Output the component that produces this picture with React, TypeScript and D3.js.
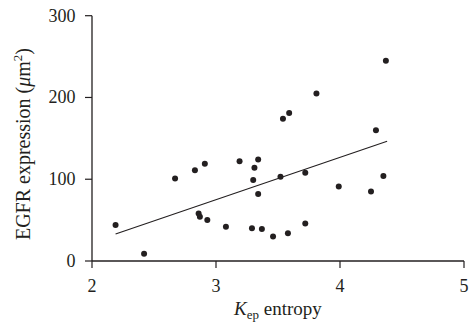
import * as d3 from "d3";

const kepEntropy = [
  2.19, 2.42, 2.67, 2.83, 2.91, 2.86, 2.87, 2.93, 3.19, 3.34, 3.31, 3.3, 3.34,
  3.52, 3.72, 3.99, 3.81, 3.54, 3.59, 3.08, 3.29, 3.37, 3.46, 3.58, 3.72, 4.37,
  4.29, 4.35, 4.25,
];
const egfr = [
  44, 9, 101, 111, 119, 58, 54, 50, 122, 124, 114, 99, 82, 103, 108, 91, 205,
  174, 181, 42, 40, 39, 30, 34, 46, 245, 160, 104, 85,
];
const fitX = [2.19, 4.38];
const fitY = [33, 146.5];
const xTicks = [2, 3, 4, 5];
const yTicks = [0, 100, 200, 300];

export default function App() {
  const width = 469;
  const height = 330;
  const margin = { top: 15.7, right: 5, bottom: 69, left: 92 };
  const x = d3.scaleLinear([2, 5], [margin.left, width - margin.right]);
  const y = d3.scaleLinear([0, 300], [height - margin.bottom, margin.top]);
  const font = "'Liberation Serif', 'Times New Roman', serif";
  const ink = "#231f20";
  const fit = d3
    .line<number>()
    .x((d) => x(d))
    .y((_, i) => y(fitY[i]));

  return (
    <svg
      width={width}
      height={height}
      viewBox={`0 0 ${width} ${height}`}
      style={{ position: "absolute", left: 0, top: 0, background: "#fff" }}
      fontFamily={font}
    >
      {/* axes */}
      <line x1={x(2)} x2={x(5)} y1={y(0)} y2={y(0)} stroke={ink} strokeWidth={1.3} />
      <line x1={x(2)} x2={x(2)} y1={y(0)} y2={y(300)} stroke={ink} strokeWidth={1.3} />
      {xTicks.map((t) => (
        <g key={`x${t}`}>
          <line x1={x(t)} x2={x(t)} y1={y(0)} y2={y(0) + 7} stroke={ink} strokeWidth={1.2} />
          <text x={x(t)} y={291.5} textAnchor="middle" fontSize={18} fill={ink}>
            {t}
          </text>
        </g>
      ))}
      {yTicks.map((t) => (
        <g key={`y${t}`}>
          <line x1={x(2) - 7} x2={x(2)} y1={y(t)} y2={y(t)} stroke={ink} strokeWidth={1.2} />
          <text x={75.5} y={y(t) + 6} textAnchor="end" fontSize={18} fill={ink}>
            {t}
          </text>
        </g>
      ))}

      {/* fitted line */}
      <path d={fit(fitX) ?? ""} fill="none" stroke={ink} strokeWidth={1.1} />

      {/* points */}
      {kepEntropy.map((k, i) => (
        <circle key={i} cx={x(k)} cy={y(egfr[i])} r={3} fill={ink} />
      ))}

      {/* axis titles */}
      <text x={278} y={315} textAnchor="middle" fontSize={19} fill={ink}>
        <tspan fontStyle="italic">K</tspan>
        <tspan fontSize={13} dy={4}>ep</tspan>
        <tspan dy={-4}> entropy</tspan>
      </text>
      <text
        transform="translate(30,144) rotate(-90)"
        textAnchor="middle"
        fontSize={20}
        fill={ink}
      >
        EGFR expression (<tspan fontStyle="italic">μ</tspan>m
        <tspan fontSize={13} dy={-8}>2</tspan>
        <tspan dy={8}>)</tspan>
      </text>
    </svg>
  );
}
